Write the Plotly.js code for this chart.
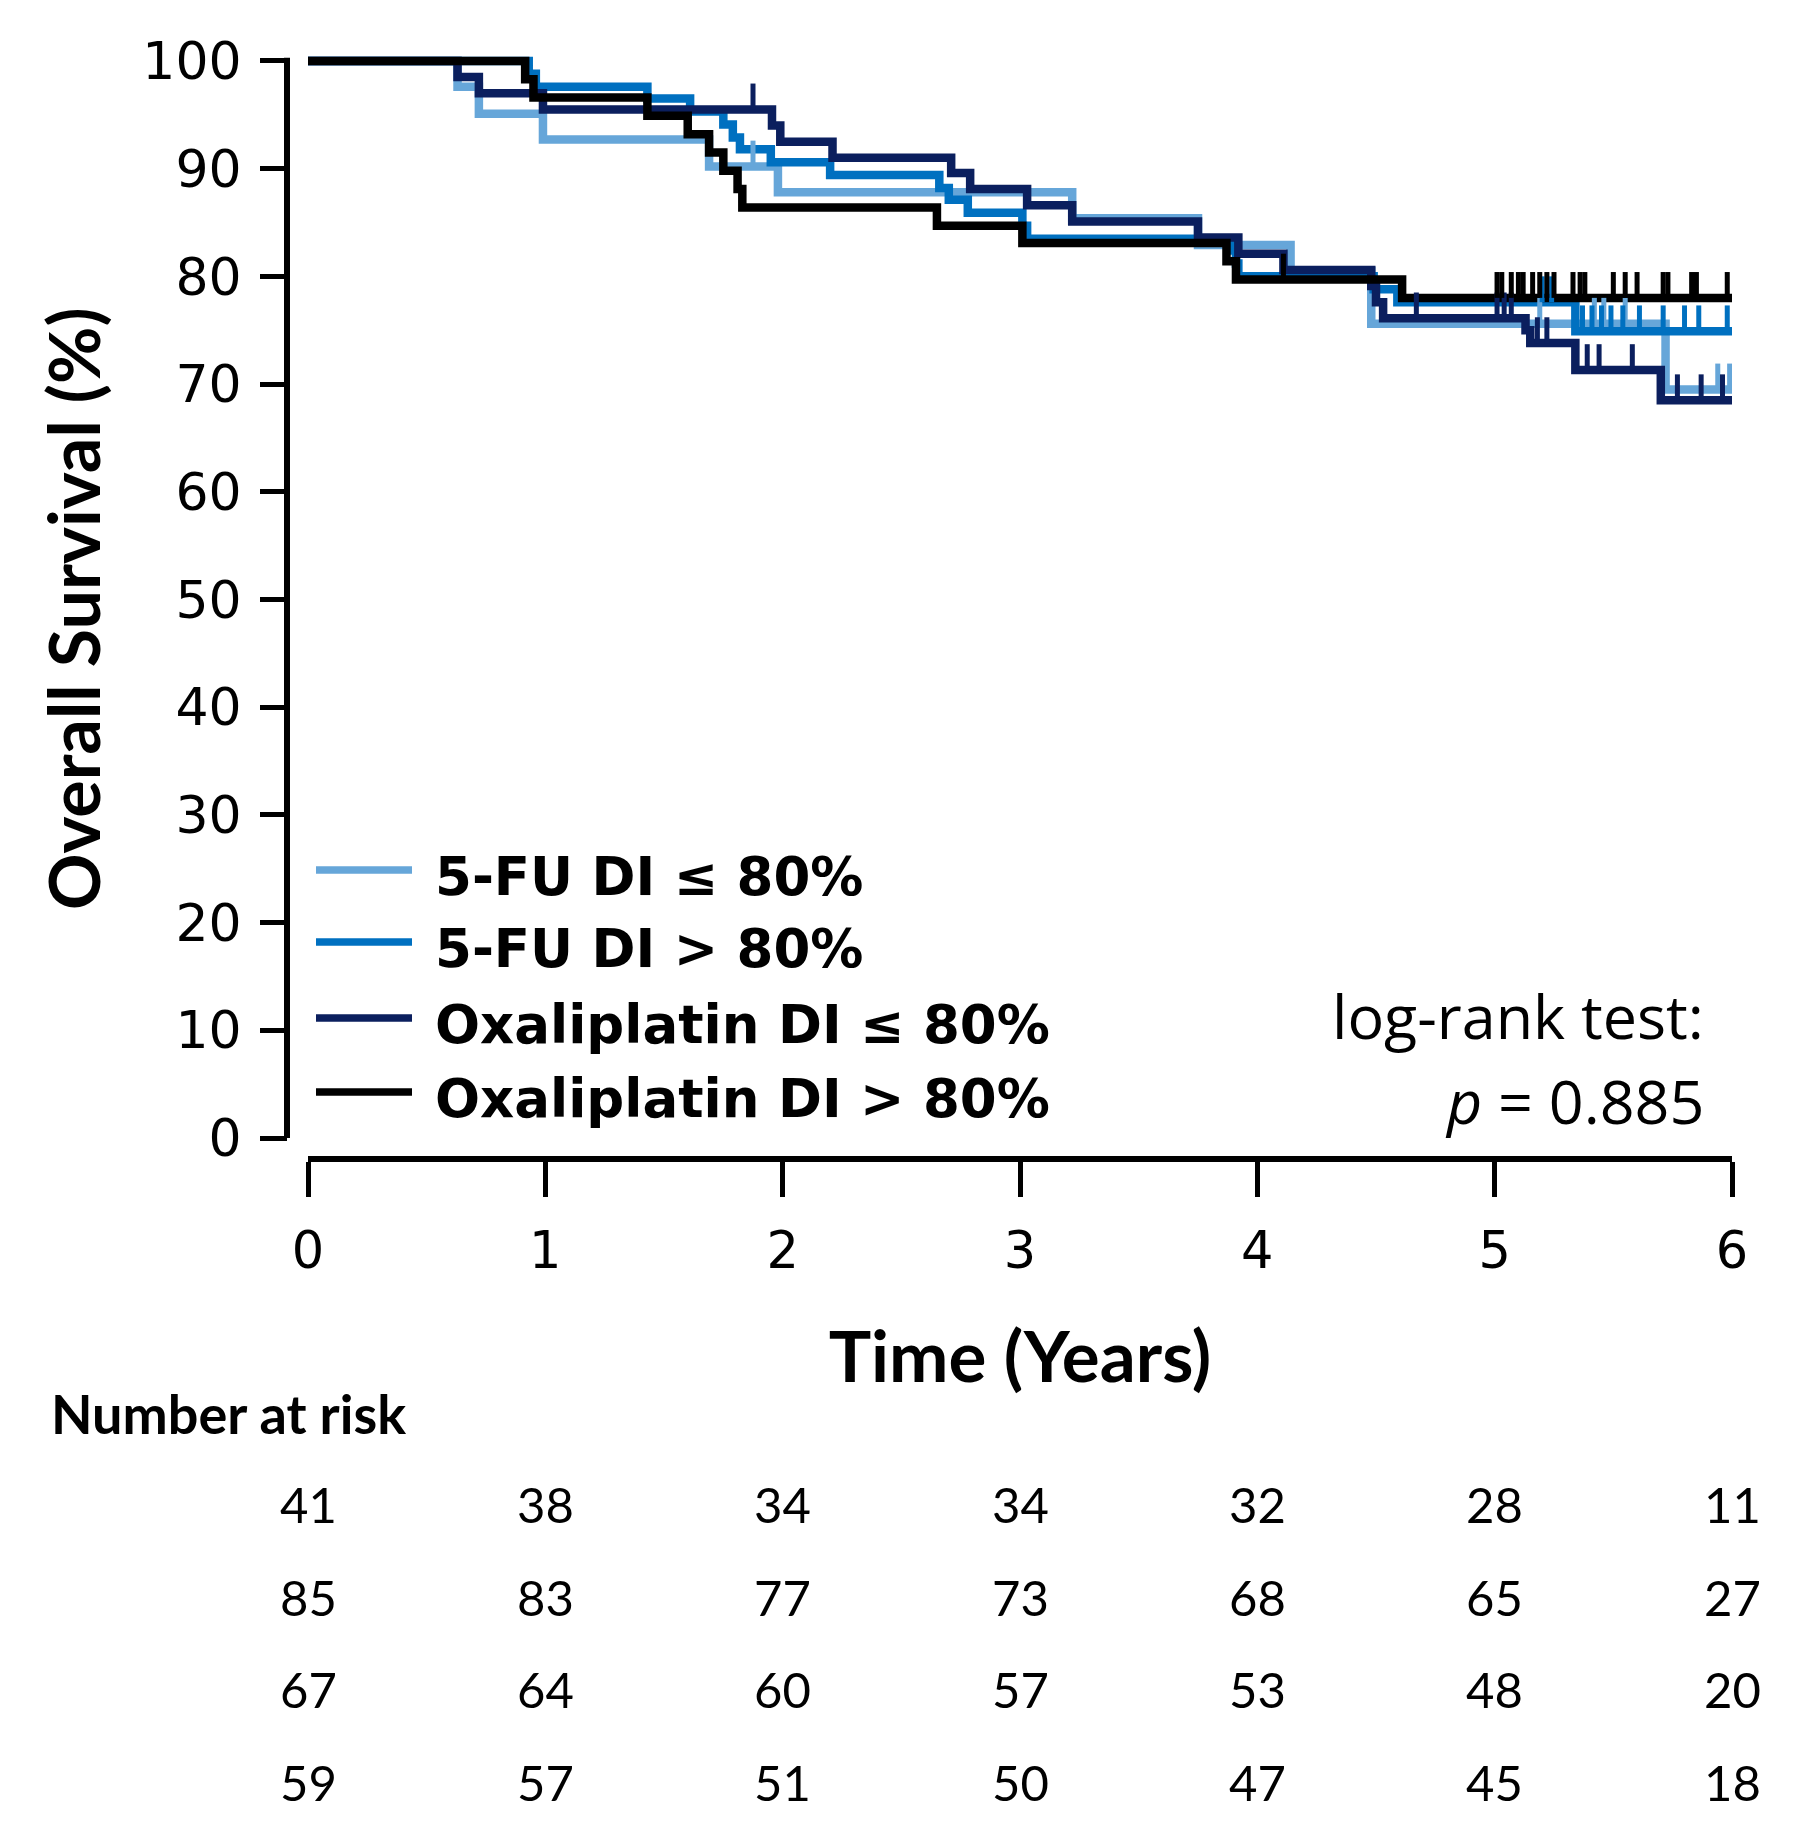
<!DOCTYPE html>
<html>
<head>
<meta charset="utf-8">
<script src="https://cdn.plot.ly/plotly-3.0.1.min.js"></script>
<style>html,body{margin:0;padding:0;background:#fff;}#chart{width:1798px;height:1836px;}</style>
</head>
<body>
<div id="chart"></div>
<script>
// ---------- data ----------
const seriesNames = ['5-FU DI \u2264 80%', '5-FU DI > 80%', 'Oxaliplatin DI \u2264 80%', 'Oxaliplatin DI > 80%'];
const seriesColors = ['#66a6d9', '#0070c0', '#0b1f5e', '#000000'];

// 5-FU DI <= 80%
const fuLowTime = [0, 0.63, 0.72, 0.99, 1.69, 1.98, 3.22, 3.75, 4.14, 4.48, 5.72, 6.0];
const fuLowSurv = [100, 97.6, 95.1, 92.7, 90.2, 87.8, 85.4, 82.9, 80.5, 75.6, 69.5, 69.5];
const fuLowCensor = [1.875, 5.19, 5.42, 5.46, 5.55, 5.94, 5.99];

// 5-FU DI > 80%
const fuHighTime = [0, 0.93, 0.96, 1.43, 1.61, 1.75, 1.79, 1.82, 1.95, 2.20, 2.66, 2.70, 2.78, 3.01, 3.03, 3.90, 3.91, 3.92, 4.49, 4.59, 5.34, 6.0];
const fuHighSurv = [100, 98.8, 97.6, 96.5, 95.3, 94.1, 92.9, 91.8, 90.6, 89.4, 88.2, 87.1, 85.9, 84.7, 83.5, 82.4, 81.2, 80.0, 78.8, 77.6, 74.9, 74.9];
const fuHighCensor = [5.20, 5.24, 5.37, 5.41, 5.45, 5.49, 5.54, 5.61, 5.71, 5.80, 5.86, 5.98];

// Oxaliplatin DI <= 80%
const oxLowTime = [0, 0.63, 0.72, 0.99, 1.955, 1.99, 2.21, 2.71, 2.79, 3.03, 3.22, 3.75, 3.92, 4.11, 4.48, 4.50, 4.53, 5.13, 5.15, 5.34, 5.70, 6.0];
const oxLowSurv = [100, 98.5, 97.0, 95.5, 94.0, 92.5, 91.0, 89.6, 88.1, 86.6, 85.1, 83.6, 82.1, 80.6, 79.1, 77.6, 76.1, 75.0, 73.8, 71.3, 68.5, 68.5];
const oxLowCensor = [1.875, 4.67, 5.01, 5.04, 5.07, 5.18, 5.22, 5.39, 5.44, 5.58, 5.77, 5.87, 5.96];

// Oxaliplatin DI > 80%
const oxHighTime = [0, 0.915, 0.95, 1.43, 1.60, 1.69, 1.75, 1.81, 1.83, 2.65, 3.01, 3.87, 3.91, 4.61, 6.0];
const oxHighSurv = [100, 98.3, 96.6, 94.9, 93.2, 91.5, 89.8, 88.1, 86.4, 84.7, 83.1, 81.4, 79.7, 78.0, 78.0];
const oxHighCensor = [4.11, 5.01, 5.03, 5.07, 5.10, 5.12, 5.16, 5.19, 5.22, 5.25, 5.33, 5.36, 5.38, 5.50, 5.55, 5.60, 5.71, 5.73, 5.83, 5.85, 5.98];

// axis ticks
const xTickVals = [0, 1, 2, 3, 4, 5, 6];
const yTickVals = [0, 10, 20, 30, 40, 50, 60, 70, 80, 90, 100];

// number at risk (rows follow legend order)
const riskTimes = [0, 1, 2, 3, 4, 5, 6];
const riskFuLow = [41, 38, 34, 34, 32, 28, 11];
const riskFuHigh = [85, 83, 77, 73, 68, 65, 27];
const riskOxLow = [67, 64, 60, 57, 53, 48, 20];
const riskOxHigh = [59, 57, 51, 50, 47, 45, 18];

const pValueText = '0.885';

// ---------- build ----------
const series = [
  {t: fuLowTime, s: fuLowSurv, c: fuLowCensor},
  {t: fuHighTime, s: fuHighSurv, c: fuHighCensor},
  {t: oxLowTime, s: oxLowSurv, c: oxLowCensor},
  {t: oxHighTime, s: oxHighSurv, c: oxHighCensor}
];
const riskRows = [riskFuLow, riskFuHigh, riskOxLow, riskOxHigh];

const TICK_H = 2.4;
function stepAt(T, S, t) {
  let v = S[0];
  for (let i = 0; i < T.length; i++) if (T[i] <= t) v = S[i];
  return v;
}
function censorXY(T, S, C) {
  const x = [], y = [];
  C.forEach(function (c) { const v = stepAt(T, S, c); x.push(c, c, null); y.push(v, v + TICK_H, null); });
  return {x: x, y: y};
}

const traces = [];
series.forEach(function (d, i) {
  traces.push({
    type: 'scatter', mode: 'lines', name: seriesNames[i],
    x: d.t, y: d.s, line: {shape: 'hv', color: seriesColors[i], width: 8.5},
    showlegend: false, hoverinfo: 'skip'
  });
});
series.forEach(function (d, i) {
  const cz = censorXY(d.t, d.s, d.c);
  traces.push({
    type: 'scatter', mode: 'lines', name: seriesNames[i] + ' censored',
    x: cz.x, y: cz.y, line: {color: seriesColors[i], width: 5},
    showlegend: false, hoverinfo: 'skip', connectgaps: false
  });
});

const W = 1798, H = 1836;
const mL = 287, mR = 66, mT = 34, mB = 677;
const plotW = W - mL - mR, plotH = H - mT - mB;
function px2paperX(px) { return (px - mL) / plotW; }
function px2paperY(py) { return (H - mB - py) / plotH; }

const annotations = [];
const shapes = [];

// y axis line
shapes.push({type: 'line', xref: 'paper', yref: 'y', x0: 0, x1: 0, y0: -0.25, y1: 100.3,
  line: {color: '#000', width: 6}});

// y axis title
annotations.push({xref: 'paper', yref: 'paper', x: px2paperX(73), y: px2paperY(609),
  xanchor: 'center', yanchor: 'middle', textangle: -90, showarrow: false,
  text: '<b>Overall Survival (%)</b>', font: {family: 'Lato', size: 70, color: '#000'}});

// legend
const legendRowsPx = [876, 948, 1024, 1098];
seriesNames.forEach(function (n, i) {
  const yp = px2paperY(legendRowsPx[i] - 6);
  shapes.push({type: 'line', xref: 'paper', yref: 'paper',
    x0: px2paperX(316), x1: px2paperX(412), y0: yp, y1: yp,
    line: {color: seriesColors[i], width: 7.5}});
  annotations.push({xref: 'paper', yref: 'paper', x: px2paperX(433), y: px2paperY(legendRowsPx[i]),
    xanchor: 'left', yanchor: 'middle', showarrow: false, text: '<b>' + n + '</b>',
    font: {family: 'DejaVu Sans', size: 53, color: '#000'}});
});

// log-rank text
annotations.push({xref: 'paper', yref: 'paper', x: px2paperX(1706), y: px2paperY(1016),
  xanchor: 'right', yanchor: 'middle', showarrow: false, text: 'log-rank test:',
  font: {family: 'Open Sans', size: 61, color: '#000'}});
annotations.push({xref: 'paper', yref: 'paper', x: px2paperX(1706), y: px2paperY(1100),
  xanchor: 'right', yanchor: 'middle', showarrow: false, text: '<i>p</i> = ' + pValueText,
  font: {family: 'Open Sans', size: 61, color: '#000'}});

// number at risk
annotations.push({xref: 'paper', yref: 'paper', x: px2paperX(49), y: px2paperY(1413),
  xanchor: 'left', yanchor: 'middle', showarrow: false, text: '<b>Number at risk</b>',
  font: {family: 'Lato', size: 54, color: '#000'}});
const riskRowPx = [1504, 1597, 1689, 1782];
riskRows.forEach(function (row, r) {
  row.forEach(function (v, k) {
    annotations.push({xref: 'x', yref: 'paper', x: riskTimes[k], y: px2paperY(riskRowPx[r]),
      xanchor: 'center', yanchor: 'middle', showarrow: false, text: String(v),
      font: {family: 'Lato', size: 49, color: '#000'}});
  });
});

const layout = {
  width: W, height: H,
  margin: {l: mL, r: mR, t: mT, b: mB, pad: 0},
  paper_bgcolor: '#fff', plot_bgcolor: '#fff',
  showlegend: false,
  xaxis: {
    domain: [px2paperX(308), 1], range: [0, 6], anchor: 'free', position: 0,
    showline: true, linecolor: '#000', linewidth: 6,
    ticks: 'outside', ticklen: 35, tickwidth: 5, tickcolor: '#000',
    tickvals: xTickVals, ticktext: xTickVals.map(String),
    tickfont: {family: 'DejaVu Sans', size: 51, color: '#000'},
    ticklabelstandoff: 10,
    showgrid: false, zeroline: false, fixedrange: true,
    title: {text: '<b>Time (Years)</b>', font: {family: 'Lato', size: 71, color: '#000'}, standoff: 52}
  },
  yaxis: {
    domain: [px2paperY(1138), 1], range: [0, 102.5], anchor: 'free', position: 0,
    showline: false,
    ticks: 'outside', ticklen: 27, tickwidth: 5, tickcolor: '#000',
    tickvals: yTickVals, ticktext: yTickVals.map(String),
    tickfont: {family: 'DejaVu Sans', size: 52, color: '#000'},
    ticklabelstandoff: 8,
    showgrid: false, zeroline: false, fixedrange: true
  },
  shapes: shapes,
  annotations: annotations
};

Plotly.newPlot('chart', traces, layout, {staticPlot: true, displayModeBar: false});
</script>
</body>
</html>
